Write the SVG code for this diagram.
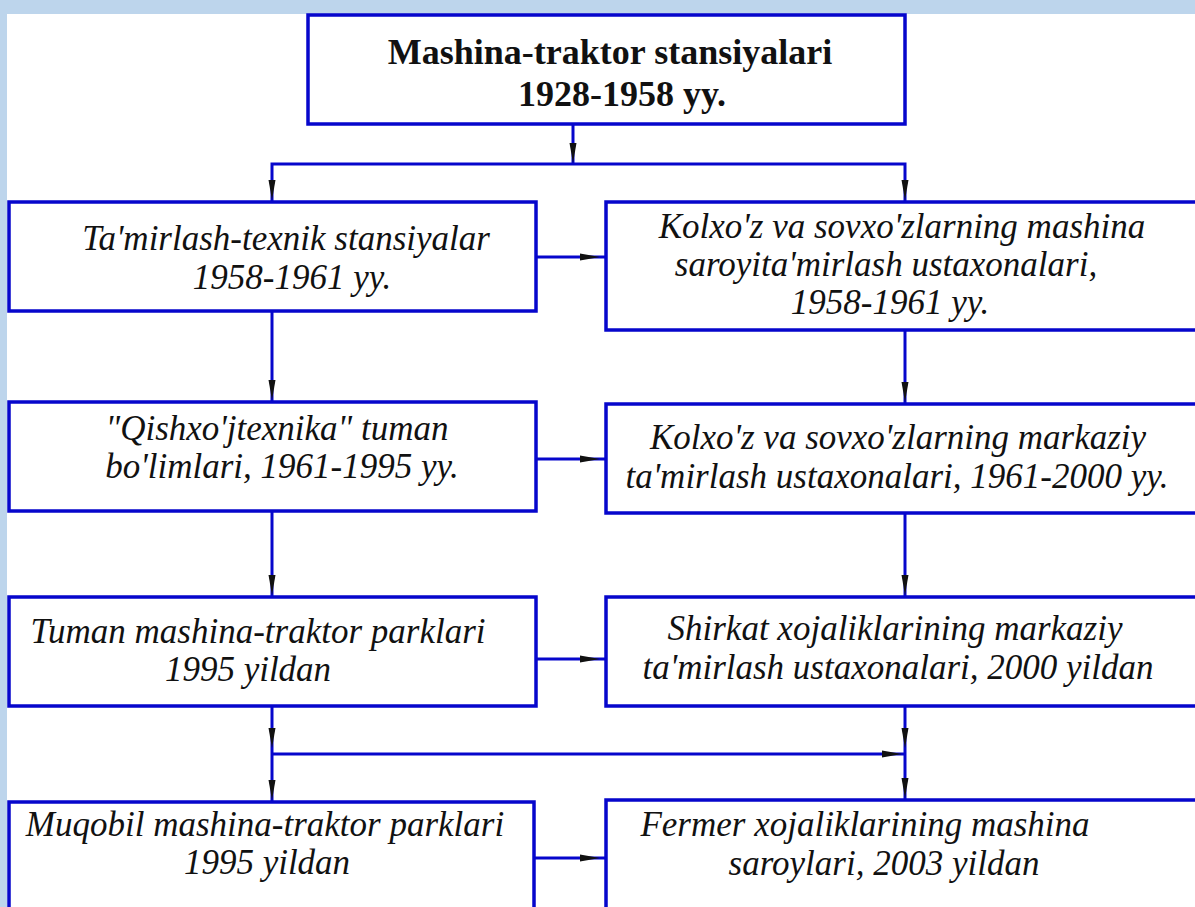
<svg xmlns="http://www.w3.org/2000/svg" xmlns:xlink="http://www.w3.org/1999/xlink" width="1195" height="907" viewBox="0 0 1195 907">
  <style>
    .box { fill: #ffffff; stroke: #0606cc; stroke-width: 3.5; }
    .ln { fill: none; stroke: #0606cc; stroke-width: 3; }
    .t { font-family: "Liberation Serif", "Times New Roman", serif; font-style: italic; font-size: 35px; fill: #111111; text-anchor: middle; }
    .tb { font-family: "Liberation Serif", "Times New Roman", serif; font-weight: bold; font-size: 36px; fill: #111111; text-anchor: middle; }
  </style>
  <defs>
    <path id="ad" d="M-3.5,-20 L3.5,-20 L0,0 Z" fill="#111111"/>
    <path id="ar" d="M-20,-3.5 L-20,3.5 L0,0 Z" fill="#111111"/>
  </defs>
  <rect x="0" y="0" width="1195" height="907" fill="#bdd5ec"/>
  <rect x="7" y="14" width="1188" height="893" fill="#ffffff"/>

  <g id="connectors">
    <path class="ln" d="M573,124 V164"/>
    <path class="ln" d="M272,202 V164 H905 V202"/>
    <path class="ln" d="M536,257 H606"/>
    <path class="ln" d="M272,311 V402"/>
    <path class="ln" d="M905,330 V404"/>
    <path class="ln" d="M536,459 H606"/>
    <path class="ln" d="M272,511 V597"/>
    <path class="ln" d="M905,513 V597"/>
    <path class="ln" d="M536,659 H606"/>
    <path class="ln" d="M272,706 V802"/>
    <path class="ln" d="M905,706 V800"/>
    <path class="ln" d="M272,754 H905"/>
    <path class="ln" d="M534,858 H606"/>
    <use xlink:href="#ad" x="573" y="163"/>
    <use xlink:href="#ad" x="272" y="200"/>
    <use xlink:href="#ad" x="905" y="200"/>
    <use xlink:href="#ar" x="600" y="257"/>
    <use xlink:href="#ad" x="272" y="400"/>
    <use xlink:href="#ad" x="905" y="402"/>
    <use xlink:href="#ar" x="600" y="459"/>
    <use xlink:href="#ad" x="272" y="595"/>
    <use xlink:href="#ad" x="905" y="595"/>
    <use xlink:href="#ar" x="600" y="659"/>
    <use xlink:href="#ad" x="272" y="748"/>
    <use xlink:href="#ad" x="905" y="748"/>
    <use xlink:href="#ar" x="902" y="754"/>
    <use xlink:href="#ad" x="272" y="800"/>
    <use xlink:href="#ad" x="905" y="798"/>
    <use xlink:href="#ar" x="600" y="858"/>
  </g>

  <g id="n0">
    <rect class="box" x="308" y="15" width="597" height="109"/>
    <text class="tb" x="610" y="64">Mashina-traktor stansiyalari</text>
    <text class="tb" x="622" y="106">1928-1958 yy.</text>
  </g>
  <g id="n1">
    <rect class="box" x="9" y="202" width="527" height="109"/>
    <text class="t" x="286" y="250">Ta'mirlash-texnik stansiyalar</text>
    <text class="t" x="292" y="289">1958-1961 yy.</text>
  </g>
  <g id="n2">
    <rect class="box" x="606" y="202" width="600" height="128"/>
    <text class="t" x="902" y="238">Kolxo'z va sovxo'zlarning mashina</text>
    <text class="t" x="886" y="276">saroyita'mirlash ustaxonalari,</text>
    <text class="t" x="890" y="314">1958-1961 yy.</text>
  </g>
  <g id="n3">
    <rect class="box" x="9" y="402" width="527" height="109"/>
    <text class="t" x="277" y="440">"Qishxo'jtexnika" tuman</text>
    <text class="t" x="282" y="478">bo'limlari, 1961-1995 yy.</text>
  </g>
  <g id="n4">
    <rect class="box" x="606" y="404" width="600" height="109"/>
    <text class="t" x="898" y="449">Kolxo'z va sovxo'zlarning markaziy</text>
    <text class="t" x="897" y="488">ta'mirlash ustaxonalari, 1961-2000 yy.</text>
  </g>
  <g id="n5">
    <rect class="box" x="9" y="597" width="527" height="109"/>
    <text class="t" x="258" y="643">Tuman mashina-traktor parklari</text>
    <text class="t" x="248" y="681">1995 yildan</text>
  </g>
  <g id="n6">
    <rect class="box" x="606" y="597" width="600" height="109"/>
    <text class="t" x="895" y="640">Shirkat xojaliklarining markaziy</text>
    <text class="t" x="898" y="679">ta'mirlash ustaxonalari, 2000 yildan</text>
  </g>
  <g id="n7">
    <rect class="box" x="9" y="802" width="525" height="120"/>
    <text class="t" x="265" y="836">Muqobil mashina-traktor parklari</text>
    <text class="t" x="267" y="874">1995 yildan</text>
  </g>
  <g id="n8">
    <rect class="box" x="606" y="800" width="600" height="120"/>
    <text class="t" x="865" y="836">Fermer xojaliklarining mashina</text>
    <text class="t" x="884" y="875">saroylari, 2003 yildan</text>
  </g>
</svg>
